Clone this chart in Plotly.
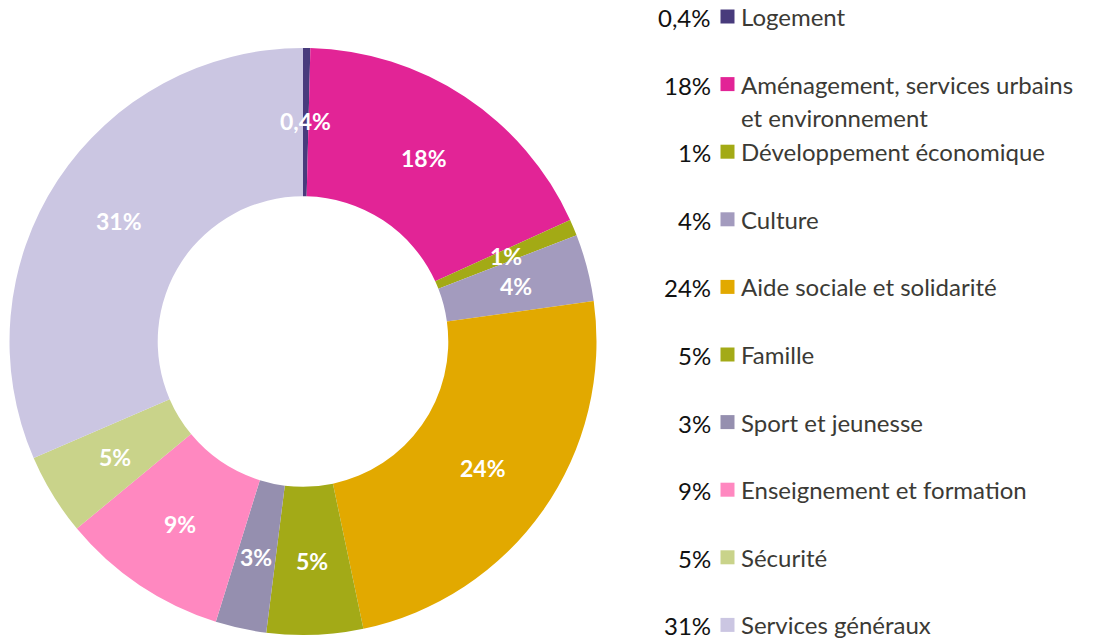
import math
import plotly.graph_objects as go

# ---- data ----
categories = [
    "Logement",
    "Aménagement, services urbains<br>et environnement",
    "Développement économique",
    "Culture",
    "Aide sociale et solidarité",
    "Famille",
    "Sport et jeunesse",
    "Enseignement et formation",
    "Sécurité",
    "Services généraux",
]
values = [0.4, 17.8, 0.9, 3.7, 23.9, 5.3, 2.8, 9.2, 4.5, 31.5]
pct_labels = ["0,4%", "18%", "1%", "4%", "24%", "5%", "3%", "9%", "5%", "31%"]
colors = [
    "#483B7C", "#E22496", "#A3AA15", "#A39BBE", "#E2A900",
    "#A3AA17", "#958FAF", "#FF88C0", "#C9D38A", "#CBC6E2",
]

W, H = 1097, 642
FONT = "Lato"
CX, CY, R_OUT = 303, 341.5, 293.5

fig = go.Figure()
fig.add_trace(go.Pie(
    labels=[c.replace("<br>", " ") for c in categories],
    values=values,
    text=pct_labels,
    textinfo="none",
    hovertemplate="%{label}: %{text}<extra></extra>",
    marker=dict(colors=colors, line=dict(width=0)),
    hole=0.495,
    sort=False,
    direction="clockwise",
    rotation=0,
    showlegend=False,
    domain=dict(x=[(CX - R_OUT) / W, (CX + R_OUT) / W],
                y=[1 - (CY + R_OUT) / H, 1 - (CY - R_OUT) / H]),
))

annotations = []
shapes = []

# slice labels at each slice's mid angle, mid-ring radius
total = sum(values)
cum = 0.0
r_lab = 0.75 * R_OUT
for v, p in zip(values, pct_labels):
    mid = (cum + v / 2) / total * 2 * math.pi
    cum += v
    px = CX + r_lab * math.sin(mid)
    py = CY - r_lab * math.cos(mid)
    annotations.append(dict(
        x=px / W, y=1 - py / H, xref="paper", yref="paper",
        xanchor="center", yanchor="middle", showarrow=False,
        text=p, font=dict(family=FONT, size=23, color="white", weight="bold"),
    ))

# ---- custom legend (percent left of marker) ----
y0, step = 16.5, 67.6
for i, (cat, pct, col) in enumerate(zip(categories, pct_labels, colors)):
    yc = y0 + step * i
    shapes.append(dict(
        type="rect", xref="paper", yref="paper",
        x0=720.5 / W, x1=734.5 / W,
        y0=1 - (yc + 7) / H, y1=1 - (yc - 7) / H,
        fillcolor=col, line=dict(width=0),
    ))
    annotations.append(dict(
        x=713 / W, y=1 - (yc + 1) / H, xref="paper", yref="paper",
        xanchor="right", yanchor="middle", showarrow=False,
        text=pct, font=dict(family=FONT, size=24, color="#111111"),
    ))
    for j, line in enumerate(cat.split("<br>")):
        annotations.append(dict(
            x=739 / W, y=1 - (yc + j * 33) / H, xref="paper", yref="paper",
            xanchor="left", yanchor="middle", showarrow=False, align="left",
            text=line, font=dict(family=FONT, size=24, color="#3B3A35"),
        ))

fig.update_layout(
    width=W, height=H,
    margin=dict(l=0, r=0, t=0, b=0),
    paper_bgcolor="white", plot_bgcolor="white",
    shapes=shapes, annotations=annotations,
    font=dict(family=FONT),
)

fig.write_html("out.html", config={"displayModeBar": False},
               post_script="document.body.style.margin='0';")
